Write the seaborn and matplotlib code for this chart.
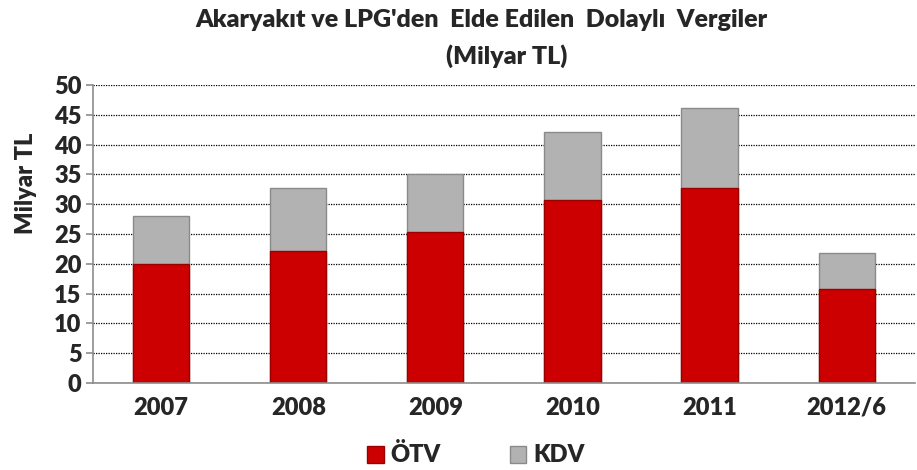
"""
Akaryakit ve LPG'den elde edilen dolayli vergiler - stacked bars (OTV + KDV)
"""

import numpy as np
import pandas as pd
import matplotlib.pyplot as plt
import seaborn as sns
from matplotlib.patches import Patch

## Data
years = ['2007', '2008', '2009', '2010', '2011', '2012/6']
otv = [20.0, 22.1, 25.3, 30.7, 32.8, 15.7]
kdv = [8.0, 10.7, 9.7, 11.5, 13.3, 6.1]

df = pd.DataFrame({'year': years, 'otv': otv, 'kdv': kdv})
df['total'] = df['otv'] + df['kdv']

## Style
red = '#cc0000'
gray = '#b2b2b2'
fw = 'heavy'

sns.set_theme(style='white')
plt.rcParams['font.family'] = ['Lato', 'DejaVu Sans']

fig, ax = plt.subplots(figsize=(9.17, 4.70), dpi=100)
fig.subplots_adjust(left=0.101, right=0.998, top=0.819, bottom=0.185)

# Gray total first, red share on top of it
sns.barplot(data=df, x='year', y='total', color=gray, width=0.41, ax=ax,
            edgecolor='#8a8a8a', linewidth=1, saturation=1)
sns.barplot(data=df, x='year', y='otv', color=red, width=0.41, ax=ax,
            edgecolor='#9a0000', linewidth=1, saturation=1)

ax.set_ylim(0, 50)
ax.set_xlim(-0.5, len(years) - 0.5)
ax.set_yticks(np.arange(0, 51, 5))
ax.yaxis.grid(True, linestyle=(0, (1, 1)), color='black', linewidth=0.9)
ax.set_axisbelow(True)

for s in ['top', 'right']:
    ax.spines[s].set_visible(False)
for s in ['left', 'bottom']:
    ax.spines[s].set_color('#8c8c8c')
    ax.spines[s].set_linewidth(1.2)

# x ticks sit between categories, labels centered below bars
ax.set_xticks(np.arange(-0.5, len(years), 1))
ax.set_xticklabels([])
ax.set_xticks(np.arange(len(years)), labels=years, minor=True)
ax.tick_params(axis='x', which='major', length=9, width=1.2, color='#8c8c8c', direction='out')
ax.tick_params(axis='x', which='minor', length=0, pad=10, labelsize=17)
ax.tick_params(axis='y', length=5, width=1.2, color='#8c8c8c', labelsize=17, pad=3, direction='out')
ax.tick_params(axis='y', left=True)
for lab in ax.get_xticklabels(minor=True) + ax.get_yticklabels():
    lab.set_fontweight(fw)

ax.set_xlabel('')
ax.set_ylabel('Milyar TL', fontsize=17, fontweight=fw, labelpad=0)
ax.yaxis.set_label_coords(-0.068, 0.67)

fig.text(0.525, 1 - 20 / 470, "Akaryakıt ve LPG'den  Elde Edilen  Dolaylı  Vergiler",
         ha='center', va='center', fontsize=18, fontweight=fw)
fig.text(0.553, 1 - 56 / 470, "(Milyar TL)", ha='center', va='center', fontsize=18, fontweight=fw)

handles = [Patch(facecolor=red, edgecolor='#9a0000', label='ÖTV'),
           Patch(facecolor=gray, edgecolor='#8a8a8a', label='KDV')]
fig.legend(handles=handles, loc='center', bbox_to_anchor=(0.519, 1 - 455 / 470), ncol=2,
           frameon=False, prop={'size': 17, 'weight': fw},
           handlelength=0.7, handleheight=0.7, handletextpad=0.3, columnspacing=2.9)

plt.savefig('out.png', dpi=100)
